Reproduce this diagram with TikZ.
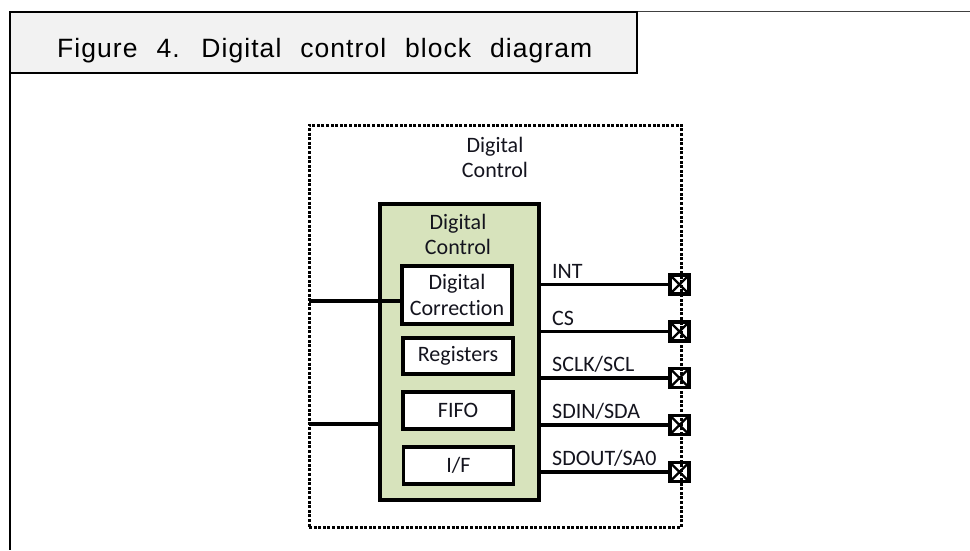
\documentclass[tikz,border=0pt]{standalone}
\usepackage{fontspec}
\setmainfont[Ligatures=NoCommon]{Carlito}
\newfontfamily\titlefont[LetterSpace=4]{Liberation Sans}
\definecolor{greenfill}{RGB}{215,227,188}
\definecolor{titlefill}{RGB}{242,242,242}
\definecolor{txt}{RGB}{20,20,30}
\begin{document}
\begin{tikzpicture}[x=1pt,y=-1pt,
  lbl/.style={font=\fontsize{22}{25}\selectfont, text=txt, inner sep=0pt},
  block/.style={draw, line width=3.2pt, fill=white, minimum width=110pt, inner sep=0pt,
    align=center, font=\fontsize{22}{25.5}\selectfont, text=txt},
  pinbox/.style={draw, line width=3.4pt, fill=white, minimum size=19pt, inner sep=0pt,
    path picture={\draw[line width=2.4pt]
      (path picture bounding box.north west) -- (path picture bounding box.south east)
      (path picture bounding box.north east) -- (path picture bounding box.south west);}},
  wire/.style={line width=3.2pt},
  dotbox/.style={draw, line width=3pt, dash pattern=on 3pt off 1.6pt, minimum width=372.5pt, minimum height=402pt, inner sep=0pt}
]
\useasboundingbox (0,0) rectangle (970,550);
\fill[white] (0,0) rectangle (970,550);

% frame and title
\draw[line width=1.8pt, black!75] (637,11.5) -- (970,11.5);
\draw[line width=2.5pt] (10,12) -- (10,550);
\node[draw, line width=2.5pt, fill=titlefill, minimum width=627pt, minimum height=61pt, inner sep=0pt]
  (title) at (323.5,42.5) {};
\node[anchor=base west, inner sep=0pt, font=\titlefont\fontsize{26.5}{30}\selectfont]
  (titletext) at (57,57) {Figure\hspace{10.5pt} 4.\hspace{10.5pt} Digital\hspace{10.5pt} control\hspace{10.5pt} block\hspace{10.5pt} diagram};

% green block
\node[draw, line width=3.6pt, fill=greenfill, minimum width=158.5pt, minimum height=295.5pt, inner sep=0pt]
  (green) at (459.5,352) {};
\node[lbl, align=center] (gtitle) at (458,234.7) {Digital\\Control};

% inner blocks
\node[block, minimum height=58pt] (dc) at (457,295) {Digital\\Correction};
\node[block, minimum height=36pt] (reg) at (458,356) {Registers};
\node[block, minimum height=37pt] (fifo) at (458,410.5) {FIFO};
\node[block, minimum height=37pt] (if) at (458.5,465.5) {I/F};

% pins
\node[pinbox] (p1) at (679.5,284.5) {};
\node[pinbox] (p2) at (679.5,331.5) {};
\node[pinbox] (p3) at (679.5,378) {};
\node[pinbox] (p4) at (679.5,425) {};
\node[pinbox] (p5) at (679.5,472) {};

% outer dotted box
\node[dotbox] (outer) at (495.25,326) {};
\node[lbl, align=center] (otitle) at (495,157.9) {Digital\\Control};

% left wires
\coordinate (l1) at (309,301);
\coordinate (l2) at (309,424);
\draw[wire] (l1) -- (l1 -| dc.west);
\draw[wire] (l2) -- (l2 -| green.west);

% right wires
\draw[wire] (p1.west -| green.east) -- (p1.west);
\draw[wire] (p2.west -| green.east) -- (p2.west);
\draw[wire] (p3.west -| green.east) -- (p3.west);
\draw[wire] (p4.west -| green.east) -- (p4.west);
\draw[wire] (p5.west -| green.east) -- (p5.west);

% labels
\node[lbl, anchor=base west] (t1) at (552,278) {INT};
\node[lbl, anchor=base west] (t2) at (552,325) {CS};
\node[lbl, anchor=base west] (t3) at (552,371.5) {SCLK/SCL};
\node[lbl, anchor=base west] (t4) at (552,418.5) {SDIN/SDA};
\node[lbl, anchor=base west] (t5) at (552,465.5) {SDOUT/SA0};
\end{tikzpicture}
\end{document}
